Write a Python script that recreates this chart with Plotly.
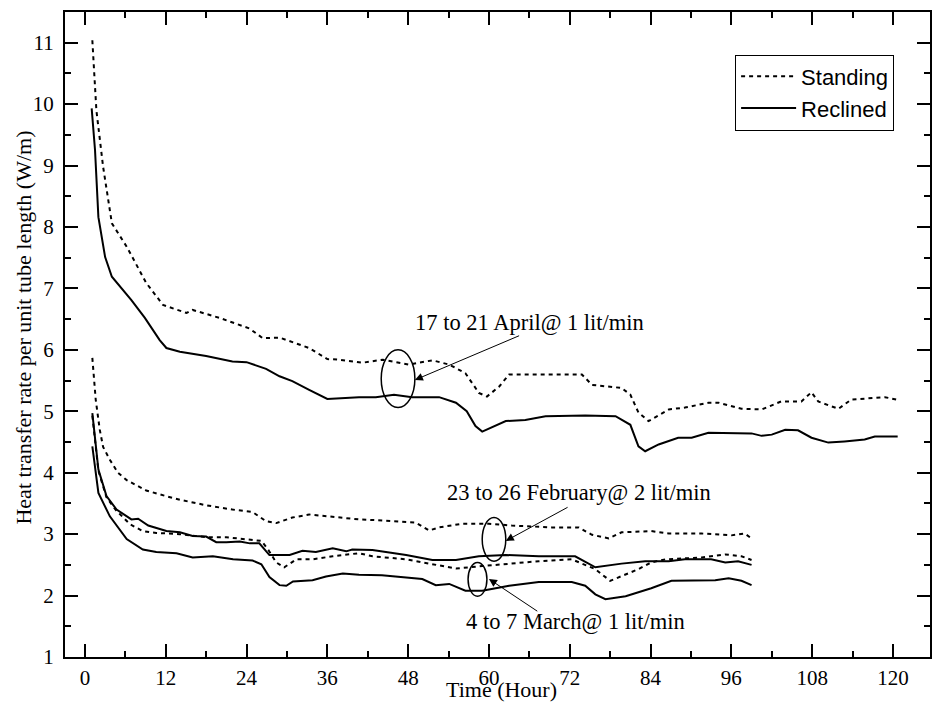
import plotly.graph_objects as go

# ---------------- data ----------------
apr_std_x = [1.1, 1.7, 2.7, 4.0, 6.2, 9.1, 11.6, 15.1, 16.0, 20.0, 24.4, 26.4, 28.9, 31.0, 33.3, 36.0,
             37.8, 41.2, 44.2, 48.1, 51.6, 54.1, 56.5, 58.5, 59.7, 61.5, 63.0, 67.4, 73.8, 75.3, 79.7,
             81.0, 82.2, 83.7, 86.7, 89.1, 92.6, 94.1, 97.5, 100.5, 103.4, 106.4, 107.9, 108.9, 111.9,
             113.8, 118.8, 120.5]
apr_std_y = [11.04, 9.9, 8.98, 8.06, 7.68, 7.09, 6.73, 6.6, 6.65, 6.52, 6.35, 6.19, 6.2, 6.12, 6.03, 5.85,
             5.84, 5.79, 5.84, 5.76, 5.83, 5.76, 5.62, 5.3, 5.24, 5.4, 5.6, 5.6, 5.6, 5.43, 5.38,
             5.27, 4.98, 4.84, 5.03, 5.06, 5.14, 5.14, 5.04, 5.03, 5.16, 5.16, 5.31, 5.16, 5.04,
             5.19, 5.23, 5.19]

apr_rec_x = [1.0, 1.5, 2.0, 3.0, 4.0, 6.9, 8.9, 11.1, 12.1, 14.1, 18.0, 21.9, 24.0, 26.9, 28.9, 30.8,
             33.3, 36.0, 40.7, 43.2, 45.9, 48.6, 52.6, 55.1, 56.7, 58.0, 59.0, 62.5, 65.4, 68.4, 74.3,
             78.8, 81.0, 82.2, 83.2, 85.2, 88.1, 90.1, 92.6, 95.6, 99.0, 100.5, 102.0, 104.0, 105.9,
             107.9, 110.4, 112.8, 115.8, 117.3, 120.7]
apr_rec_y = [9.93, 9.25, 8.16, 7.51, 7.19, 6.81, 6.52, 6.16, 6.03, 5.97, 5.9, 5.81, 5.8, 5.69, 5.57, 5.49,
             5.35, 5.2, 5.23, 5.23, 5.27, 5.23, 5.23, 5.14, 5.0, 4.76, 4.67, 4.84, 4.86, 4.92, 4.93,
             4.92, 4.78, 4.43, 4.35, 4.46, 4.57, 4.57, 4.65, 4.64, 4.64, 4.6, 4.62, 4.7, 4.69,
             4.57, 4.49, 4.51, 4.54, 4.59, 4.59]

feb_std_x = [1.1, 1.6, 2.2, 2.7, 3.7, 4.9, 6.2, 9.1, 12.0, 14.1, 18.0, 21.9, 24.9, 26.9, 28.4, 30.8,
             33.3, 35.8, 40.7, 42.7, 49.1, 51.1, 52.6, 56.0, 60.0, 63.4, 69.3, 73.3, 75.3, 77.8, 79.7,
             84.1, 86.7, 91.6, 96.0, 98.0, 99.0]
feb_std_y = [5.87, 5.19, 4.7, 4.42, 4.21, 4.0, 3.88, 3.71, 3.62, 3.56, 3.47, 3.4, 3.36, 3.21, 3.18, 3.27,
             3.32, 3.29, 3.24, 3.23, 3.19, 3.06, 3.11, 3.17, 3.17, 3.14, 3.11, 3.11, 2.99, 2.93, 3.03,
             3.05, 3.01, 3.01, 2.98, 3.01, 2.93]

feb_rec_x = [1.1, 2.0, 3.2, 4.7, 6.9, 7.9, 9.4, 12.1, 14.1, 16.0, 18.0, 19.5, 21.0, 23.0, 24.5, 25.9,
             27.4, 30.4, 32.3, 34.3, 36.8, 38.8, 39.7, 42.7, 47.7, 51.6, 55.1, 58.5, 62.5, 67.4, 72.8,
             75.8, 79.7, 83.2, 86.7, 89.1, 93.0, 95.1, 97.0, 99.0]
feb_rec_y = [4.97, 4.05, 3.62, 3.4, 3.24, 3.25, 3.14, 3.05, 3.03, 2.97, 2.96, 2.87, 2.87, 2.88, 2.85, 2.85,
             2.66, 2.66, 2.73, 2.71, 2.77, 2.72, 2.75, 2.74, 2.66, 2.58, 2.58, 2.64, 2.66, 2.64, 2.64,
             2.46, 2.52, 2.56, 2.56, 2.59, 2.59, 2.54, 2.56, 2.5]

mar_std_x = [1.1, 2.0, 3.2, 4.6, 5.7, 6.7, 8.6, 10.6, 14.1, 18.0, 21.0, 24.0, 26.2, 27.2, 28.4, 29.6,
             31.4, 33.8, 36.8, 40.7, 42.7, 47.7, 51.6, 55.1, 59.0, 63.4, 67.4, 72.3, 75.8, 78.0, 79.7,
             82.2, 84.1, 86.2, 91.6, 95.1, 97.5, 99.0]
mar_std_y = [4.93, 4.03, 3.6, 3.39, 3.27, 3.16, 3.05, 3.02, 3.0, 2.95, 2.95, 2.92, 2.89, 2.75, 2.54, 2.46,
             2.59, 2.59, 2.64, 2.69, 2.64, 2.59, 2.51, 2.44, 2.48, 2.52, 2.56, 2.59, 2.43, 2.24, 2.32,
             2.43, 2.54, 2.59, 2.62, 2.67, 2.64, 2.58]

mar_rec_x = [1.1, 2.0, 3.7, 6.2, 8.6, 10.6, 13.6, 16.0, 19.0, 22.0, 24.9, 26.2, 27.4, 28.9, 29.9, 30.9,
             33.8, 35.8, 38.3, 40.7, 44.1, 50.1, 52.1, 54.1, 56.5, 59.0, 63.0, 67.4, 72.3, 74.3, 75.8,
             77.3, 80.3, 84.1, 87.1, 90.6, 93.6, 95.6, 97.5, 99.0]
mar_rec_y = [4.43, 3.67, 3.29, 2.92, 2.75, 2.71, 2.69, 2.62, 2.64, 2.59, 2.57, 2.51, 2.3, 2.17, 2.16, 2.23,
             2.25, 2.31, 2.36, 2.34, 2.33, 2.27, 2.17, 2.19, 2.08, 2.08, 2.16, 2.22, 2.22, 2.16, 2.02,
             1.94, 1.99, 2.12, 2.24, 2.25, 2.25, 2.28, 2.24, 2.17]

x_ticks = [0, 12, 24, 36, 48, 60, 72, 84, 96, 108, 120]
y_ticks = [1, 2, 3, 4, 5, 6, 7, 8, 9, 10, 11]

# annotation labels, ellipse bounds (x0, x1, y0, y1), arrow head and tail
labels = ["17 to 21 April@ 1 lit/min", "23 to 26 February@ 2 lit/min", "4 to 7 March@ 1 lit/min"]
label_pos = [(66.0, 6.44), (73.3, 3.68), (72.9, 1.57)]
ellipses = [(44.0, 49.0, 5.06, 6.0), (59.0, 62.5, 2.56, 3.27), (56.9, 59.7, 1.99, 2.54)]
arrow_heads = [(49.0, 5.51), (62.5, 2.89), (60.0, 2.27)]
arrow_tails = [(64.7, 6.24), (71.9, 3.45), (67.4, 1.73)]

# ---------------- figure ----------------
SERIF = "Liberation Serif"
SANS = "Liberation Sans"
DASH = "4px,4px"

fig = go.Figure()
series = [
    (apr_std_x, apr_std_y, True, "Standing", True),
    (apr_rec_x, apr_rec_y, False, "Reclined", True),
    (feb_std_x, feb_std_y, True, "Standing", False),
    (feb_rec_x, feb_rec_y, False, "Reclined", False),
    (mar_std_x, mar_std_y, True, "Standing", False),
    (mar_rec_x, mar_rec_y, False, "Reclined", False),
]
for xs, ys, dashed, name, show in series:
    fig.add_trace(go.Scatter(
        x=xs, y=ys, mode="lines", name=name, showlegend=show,
        line=dict(color="black", width=2, dash=DASH if dashed else "solid"),
    ))

annotations = []
for txt, (tx, ty) in zip(labels, label_pos):
    annotations.append(dict(x=tx, y=ty, xref="x", yref="y", text=txt, showarrow=False,
                            font=dict(family=SERIF, size=22.5, color="black")))
for (hx, hy), (ax, ay) in zip(arrow_heads, arrow_tails):
    annotations.append(dict(x=hx, y=hy, xref="x", yref="y", ax=ax, ay=ay, axref="x", ayref="y",
                            text="", showarrow=True, arrowhead=2, arrowsize=1.6, arrowwidth=1,
                            arrowcolor="black"))
annotations.append(dict(x=0.505, y=-0.051, xref="paper", yref="paper", text="Time (Hour)",
                        showarrow=False, xanchor="center", yanchor="middle",
                        font=dict(family=SERIF, size=22, color="black")))
annotations.append(dict(x=-0.0484, y=0.511, xref="paper", yref="paper",
                        text="Heat transfer rate per unit tube length (W/m)", textangle=-90,
                        showarrow=False, xanchor="center", yanchor="middle",
                        font=dict(family=SERIF, size=22, color="black")))

shapes = []
for x0, x1, y0, y1 in ellipses:
    shapes.append(dict(type="circle", xref="x", yref="y", x0=x0, x1=x1, y0=y0, y1=y1,
                       line=dict(color="black", width=1.5)))

fig.update_layout(
    width=934, height=702,
    margin=dict(l=65, r=2, t=12, b=45),
    paper_bgcolor="white", plot_bgcolor="white",
    annotations=annotations, shapes=shapes,
    legend=dict(x=0.9585, y=0.934, xanchor="right", yanchor="top",
                bgcolor="white", bordercolor="black", borderwidth=1,
                font=dict(family=SANS, size=22, color="black"),
                tracegroupgap=0, itemwidth=55),
)
fig.update_xaxes(
    range=[-2.96, 125.5], tickvals=x_ticks, ticktext=[str(v) for v in x_ticks],
    ticks="inside", ticklen=13, tickwidth=2, tickcolor="black",
    minor=dict(dtick=6, tick0=0, ticks="inside", ticklen=6, tickwidth=2, tickcolor="black", showgrid=False),
    showline=True, linewidth=2, linecolor="black", mirror="allticks",
    showgrid=False, zeroline=False, ticklabelstandoff=1,
    tickfont=dict(family=SERIF, size=21, color="black"),
)
fig.update_yaxes(
    range=[1, 11.5], tickvals=y_ticks, ticktext=[str(v) for v in y_ticks],
    ticks="inside", ticklen=13, tickwidth=2, tickcolor="black",
    minor=dict(dtick=0.5, tick0=1, ticks="inside", ticklen=6, tickwidth=2, tickcolor="black", showgrid=False),
    showline=True, linewidth=2, linecolor="black", mirror="allticks",
    showgrid=False, zeroline=False, ticklabelstandoff=5,
    tickfont=dict(family=SERIF, size=21, color="black"),
)

fig.write_html("out.html")
